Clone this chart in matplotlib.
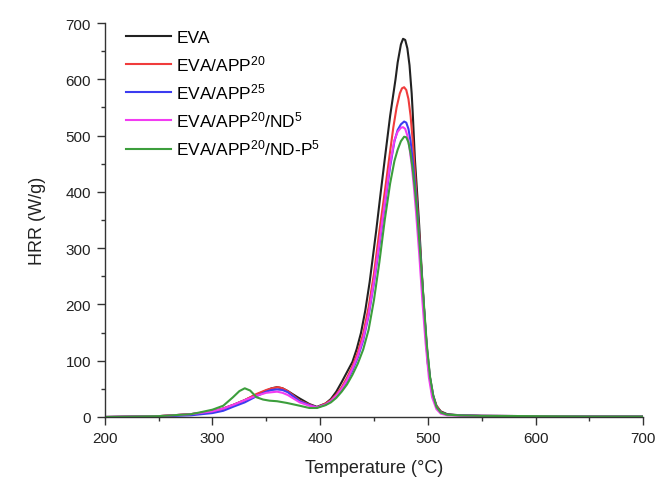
import matplotlib
matplotlib.use("Agg")
import matplotlib.pyplot as plt
from matplotlib.ticker import MultipleLocator

plt.rcParams['font.family'] = ['Liberation Sans', 'DejaVu Sans']
plt.rcParams['mathtext.default'] = 'regular'

# --- DATA ---
temp_eva = [200, 250, 280, 300, 310, 320, 330, 340, 350, 355, 360, 365, 370, 380, 390, 397,
            405, 410, 415, 420, 425, 430, 434, 438, 442, 446, 449, 452, 456, 460, 465, 470,
            472, 475, 477, 479, 481, 483, 485, 486, 488, 490, 492, 494, 497, 500, 504, 508,
            512, 518, 530, 550, 600, 650, 700]
hrr_eva = [0, 1.5, 5, 10, 15, 22, 30, 39, 47, 51, 53, 51, 46, 34, 23, 18,
           24, 32, 45, 62, 80, 98, 121, 150, 190, 240, 285, 330, 395, 458, 535, 600,
           630, 662, 672, 670, 655, 625, 575, 540, 458, 400, 340, 270, 175, 95, 42, 20,
           10, 5, 3, 2, 1.5, 1, 1]

temp_app20 = [200, 250, 280, 300, 310, 320, 330, 341, 350, 355, 361, 365, 370, 381, 390, 397,
              405, 410, 415, 420, 425, 430, 435, 440, 445, 450, 455, 460, 464, 468, 471, 474,
              476, 478, 480, 482, 484, 486, 488, 490, 493, 496, 499, 502, 505, 508, 512, 518,
              530, 550, 600, 650, 700]
hrr_app20 = [0, 1.5, 5, 10, 15, 22, 30, 41, 48, 51, 53, 51, 46, 29, 22, 17,
             24, 30, 40, 53, 70, 90, 115, 148, 195, 255, 330, 400, 458, 515, 550, 575,
             584, 586, 581, 565, 535, 490, 435, 380, 295, 205, 125, 70, 38, 20, 9, 4,
             3, 2, 1.5, 1, 1]

temp_app25 = [200, 250, 280, 300, 310, 319, 330, 341, 350, 355, 360, 365, 370, 381, 390, 397,
              405, 410, 415, 420, 425, 430, 435, 440, 445, 450, 455, 460, 465, 469, 472, 475,
              478, 480, 482, 484, 486, 488, 490, 493, 496, 499, 502, 505, 508, 512, 518,
              530, 550, 600, 650, 700]
hrr_app25 = [0, 1, 3, 7, 11, 18, 26, 37, 45, 48, 49, 48, 44, 28, 21, 17,
             22, 28, 37, 49, 64, 83, 106, 136, 180, 238, 305, 375, 445, 490, 510, 520,
             525, 523, 512, 490, 455, 415, 370, 290, 205, 125, 70, 38, 18, 8, 4,
             3, 2, 1.5, 1, 1]

temp_nd5 = [200, 250, 280, 300, 310, 320, 330, 341, 350, 355, 360, 365, 370, 381, 390, 397,
            405, 410, 415, 420, 425, 430, 435, 440, 445, 450, 455, 460, 465, 469, 472, 475,
            477, 479, 481, 483, 485, 487, 489, 492, 495, 498, 501, 504, 508, 512, 518,
            530, 550, 600, 650, 700]
hrr_nd5 = [0, 1.5, 5, 10, 15, 22, 30, 38, 43, 44, 45, 43, 39, 26, 20, 17,
           22, 28, 38, 50, 66, 86, 109, 140, 183, 242, 310, 380, 450, 492, 507, 514,
           515, 512, 500, 478, 448, 410, 365, 290, 205, 130, 70, 35, 14, 6, 3,
           2.5, 2, 1.5, 1, 1]

temp_ndp5 = [200, 250, 280, 288, 300, 310, 319, 325, 330, 335, 341, 347, 353, 360, 369, 381,
             390, 397, 405, 410, 415, 420, 425, 430, 435, 440, 445, 450, 455, 460, 465, 469,
             472, 475, 478, 480, 482, 484, 486, 488, 490, 493, 496, 499, 502, 505, 508, 512,
             518, 530, 550, 600, 650, 700]
hrr_ndp5 = [0, 1.5, 5, 8, 13, 20, 35, 46, 51, 47, 35, 31, 29, 28, 25, 20,
            16, 16, 21, 26, 34, 45, 58, 75, 95, 120, 155, 208, 275, 350, 415, 455,
            475, 490, 498, 497, 488, 468, 440, 405, 365, 290, 210, 130, 72, 38, 18, 8,
            4, 3, 2, 1.5, 1, 1]

series = [
    (temp_eva, hrr_eva, 'EVA', '#222222'),
    (temp_app20, hrr_app20, 'EVA/APP$^{20}$', '#f03c3c'),
    (temp_app25, hrr_app25, 'EVA/APP$^{25}$', '#3c3cf0'),
    (temp_nd5, hrr_nd5, 'EVA/APP$^{20}$/ND$^{5}$', '#f23cf2'),
    (temp_ndp5, hrr_ndp5, 'EVA/APP$^{20}$/ND-P$^{5}$', '#3c9e3c'),
]

fig = plt.figure(figsize=(6.59, 4.81), dpi=100)
ax = fig.add_axes([0.159, 0.131, 0.817, 0.819])

for t, h, label, color in series:
    ax.plot(t, h, color=color, lw=1.5, label=label)

ax.set_xlim(200, 700)
ax.set_ylim(0, 700)
ax.xaxis.set_major_locator(MultipleLocator(100))
ax.xaxis.set_minor_locator(MultipleLocator(50))
ax.yaxis.set_major_locator(MultipleLocator(100))
ax.yaxis.set_minor_locator(MultipleLocator(50))
ax.tick_params(which='both', direction='out', width=1, color='#333333',
               labelsize=11, labelcolor='#222222')
ax.tick_params(which='major', length=6, pad=4)
ax.tick_params(which='minor', length=3)

ax.spines['top'].set_visible(False)
ax.spines['right'].set_visible(False)
for s in ('left', 'bottom'):
    ax.spines[s].set_color('#333333')
    ax.spines[s].set_linewidth(1)

ax.set_xlabel('Temperature (°C)', fontsize=13, color='#222222', labelpad=10)
ax.set_ylabel('HRR (W/g)', fontsize=13, color='#222222', labelpad=14)

ax.legend(loc='upper left', frameon=False, fontsize=12.5, handlelength=2.6,
          handletextpad=0.3, labelspacing=0.48, borderaxespad=0.2,
          bbox_to_anchor=(0.02, 1.01))

fig.savefig('out.png', dpi=100)
